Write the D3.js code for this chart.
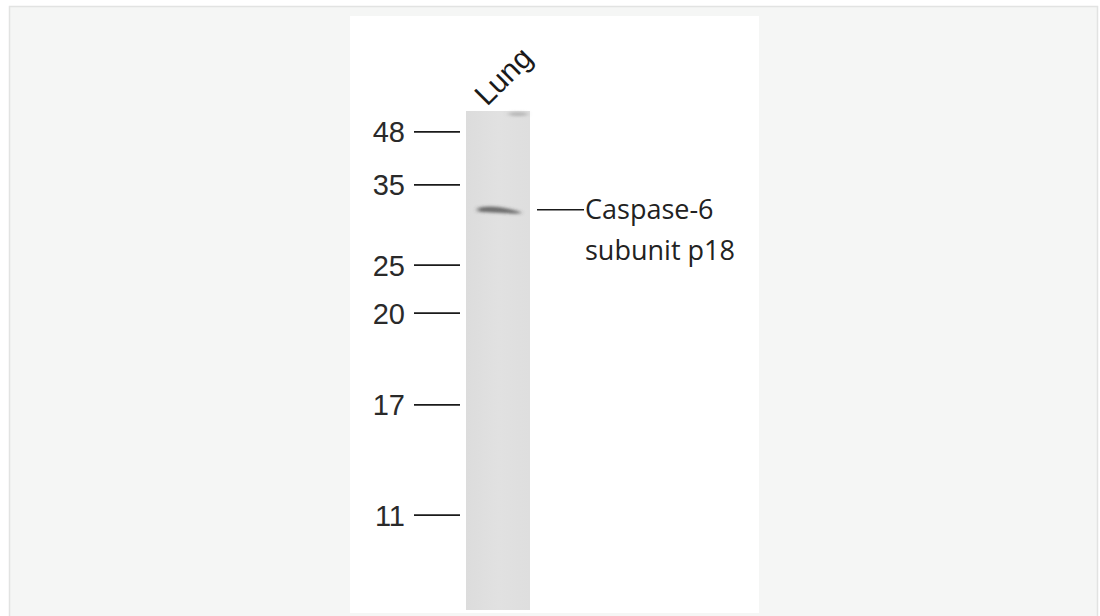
<!DOCTYPE html>
<html><head><meta charset="utf-8">
<script src="https://cdn.jsdelivr.net/npm/d3@7/dist/d3.min.js"></script>
<style>html,body{margin:0;padding:0;background:#fff;}</style>
</head><body>
<svg id="c" width="1100" height="616"></svg>
<script>
// Data: molecular-weight markers (kDa) and their relative migration (fraction of lane length)
const markerLabels = ["48", "35", "25", "20", "17", "11"];
const markerRf = [0.042, 0.148, 0.309, 0.405, 0.589, 0.810];
const laneNames = ["Lung"];
const bandNames = ["Caspase-6", "subunit p18"];
const bandRf = [0.198];
const bandIntensity = [0.7];

const svg = d3.select("#c");
// Backgrounds
svg.append("rect").attr("x", 9.5).attr("y", 6.5).attr("width", 1088).attr("height", 620)
  .attr("fill", "#f5f6f5").attr("stroke", "#e2e3e2").attr("stroke-width", 1.5);
svg.append("rect").attr("x", 350).attr("y", 16).attr("width", 409).attr("height", 597).attr("fill", "#ffffff");

const laneTop = 111, laneBottom = 610;
const y = d3.scaleLinear().domain([0, 1]).range([laneTop, laneBottom]);
const x = d3.scaleBand().domain(laneNames).range([466, 530]).padding(0);

const defs = svg.append("defs");
defs.append("filter").attr("id", "blur").attr("x", "-50%").attr("y", "-200%").attr("width", "200%").attr("height", "500%")
  .append("feGaussianBlur").attr("stdDeviation", "2.5 1.5");
const lg = defs.append("linearGradient").attr("id", "laneg").attr("x1", 0).attr("x2", 1);
lg.append("stop").attr("offset", 0).attr("stop-color", "#dcdcdc");
lg.append("stop").attr("offset", 0.5).attr("stop-color", "#e1e1e1");
lg.append("stop").attr("offset", 1).attr("stop-color", "#dedede");

// Lane
laneNames.forEach(n => {
  svg.append("rect").attr("x", x(n)).attr("y", laneTop).attr("width", x.bandwidth())
    .attr("height", laneBottom - laneTop).attr("fill", "url(#laneg)");
  // smudge at top-right of lane
  svg.append("ellipse").attr("cx", x(n) + x.bandwidth() - 12).attr("cy", laneTop + 3)
    .attr("rx", 10).attr("ry", 2).attr("fill", "#9a9a9a").attr("opacity", 0.6).attr("filter", "url(#blur)");
  // label
  const lx = x(n) + 21, ly = laneTop - 4;
  svg.append("text").attr("transform", `translate(${lx},${ly}) rotate(-45)`)
    .attr("font-family", "Liberation Sans, Arial, sans-serif").attr("font-size", 30)
    .attr("fill", "#1a1a1a").text(n);
});

// Bands
bandRf.forEach((rf, i) => {
  const cx = x(laneNames[0]) + x.bandwidth() / 2 + 1;
  const yc = y(rf);
  const g = svg.append("g").attr("filter", "url(#blur)");
  g.append("path")
    .attr("d", `M${cx - 21},${yc - 2} Q${cx - 4},${yc - 6} ${cx + 21},${yc + 2} L${cx + 21},${yc + 4} Q${cx - 4},${yc + 3} ${cx - 21},${yc + 2} Z`)
    .attr("fill", "#3c3c3c").attr("opacity", bandIntensity[i]);
});

// Markers
const mg = svg.append("g");
markerLabels.forEach((m, i) => {
  const yy = y(markerRf[i]);
  mg.append("line").attr("x1", 414).attr("x2", 460).attr("y1", yy).attr("y2", yy)
    .attr("stroke", "#1a1a1a").attr("stroke-width", 1.8);
  mg.append("text").attr("x", 405).attr("y", yy + 10.5).attr("text-anchor", "end")
    .attr("font-family", "Liberation Sans, Arial, sans-serif").attr("font-size", 29)
    .attr("fill", "#2a2a2a").text(m);
});

// Band annotation
const by = y(bandRf[0]);
svg.append("line").attr("x1", 537).attr("x2", 584).attr("y1", by).attr("y2", by)
  .attr("stroke", "#1a1a1a").attr("stroke-width", 1.6);
bandNames.forEach((t, i) => {
  svg.append("text").attr("x", 585).attr("y", by + 9 + i * 41)
    .attr("font-family", "Open Sans, sans-serif").attr("font-size", 27)
    .attr("fill", "#222").text(t);
});
</script>
</body></html>
